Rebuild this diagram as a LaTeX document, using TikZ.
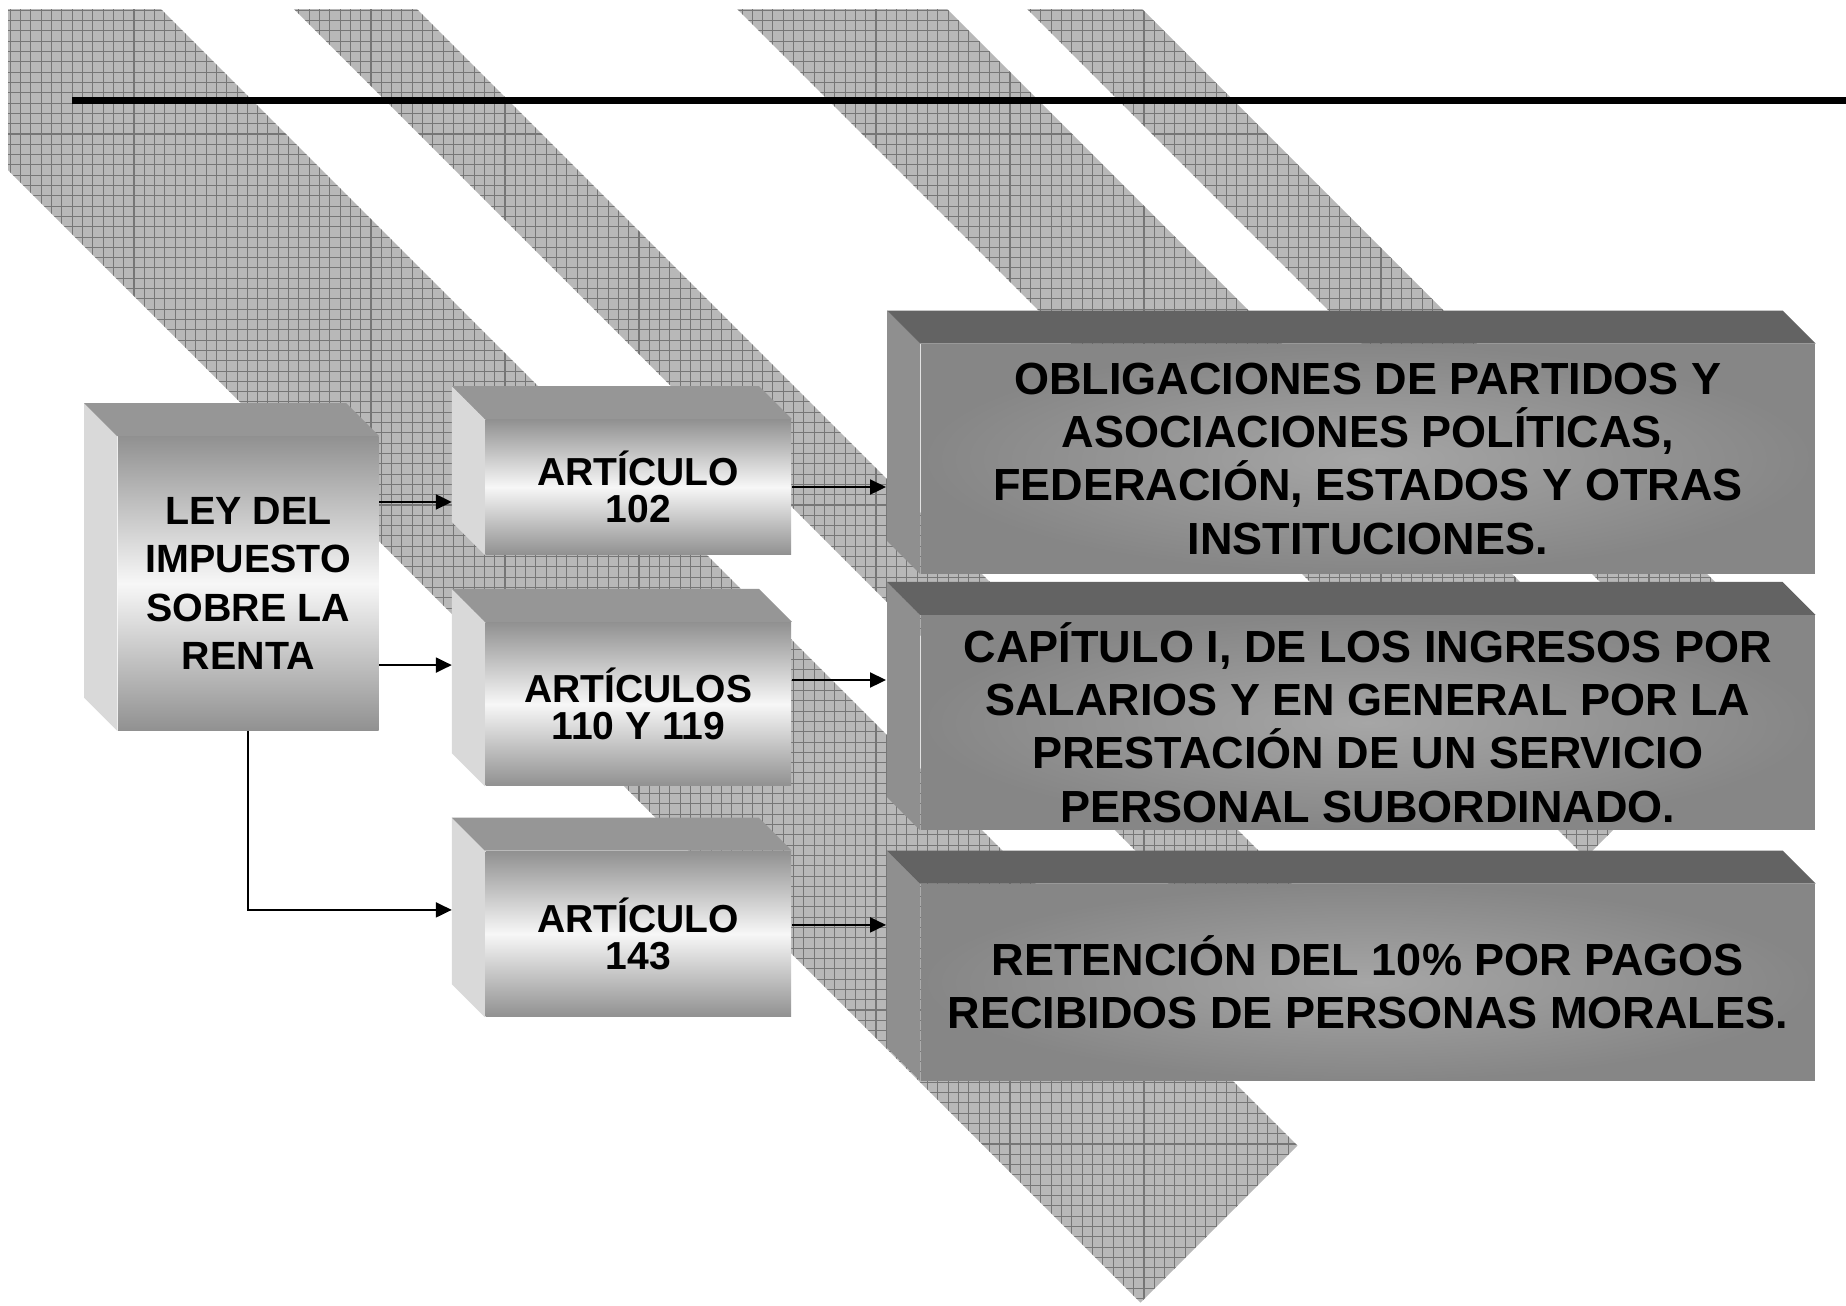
\documentclass[tikz,border=0pt]{standalone}
\usepackage{fontspec}
\setmainfont{Liberation Sans}
\usetikzlibrary{arrows.meta}

\definecolor{hatchfill}{RGB}{184,184,184}
\definecolor{hatchline}{RGB}{118,118,118}
\definecolor{darktop}{RGB}{99,99,99}
\definecolor{darkside}{RGB}{143,143,143}
\definecolor{darkfront}{RGB}{134,134,134}
\definecolor{darkmid}{RGB}{166,166,166}
\definecolor{lightside}{RGB}{217,217,217}
\definecolor{lighttop}{RGB}{150,150,150}
\definecolor{lightedge}{RGB}{145,145,145}
\definecolor{lightmid}{RGB}{247,247,247}

\begin{document}
\begin{tikzpicture}[x=0.01cm, y=-0.01cm, >={Triangle[length=1.6mm,width=1.5mm]},
  smallbox/.style={rectangle, inner sep=0pt, align=center, top color=lightedge, bottom color=lightedge, middle color=lightmid},
  bigbox/.style={rectangle, inner sep=0pt, align=center, inner color=darkmid, outer color=darkfront, font=\bfseries\fontsize{12.8}{15.2}\selectfont},
  artfont/.style={font=\bfseries\fontsize{11.1}{10.6}\selectfont},
  conn/.style={line width=0.6pt, ->, shorten >=3.4mm}]

% Fondo y marco
\fill[white] (0,0) rectangle (1846,1305);
\useasboundingbox (0,0) rectangle (1846,1305);

% Franjas diagonales cuadriculadas
\begin{scope}
\clip (8,9) -- (2434,9) -- (8,2435) -- cycle;
\clip (-162,0) -- (152,0) -- (1552,1400) -- (1238,1400) -- cycle
      (285,0) -- (408,0) -- (1808,1400) -- (1685,1400) -- cycle
      (728,0) -- (938,0) -- (2338,1400) -- (2128,1400) -- cycle
      (1018,0) -- (1133,0) -- (2533,1400) -- (2418,1400) -- cycle;
\fill[hatchfill] (0,0) rectangle (1846,1305);
\draw[hatchline, line width=0.3pt, step=1.03mm] (0,0) grid (1846,1305);
\end{scope}

% Linea superior
\draw[line width=2pt] (72,100.8) -- (1846,100.8);

% Ley
\node[smallbox, minimum width=2.605cm, minimum height=2.93cm,
      font=\bfseries\fontsize{11.2}{13.8}\selectfont] (ley) at (248.25,583.5)
      {LEY DEL\\IMPUESTO\\SOBRE LA\\RENTA};

% Articulos
\node[smallbox, artfont, minimum width=3.054cm, minimum height=1.345cm] (a102) at (638.3,487) {ARTÍCULO\\102};
\node[smallbox, artfont, minimum width=3.054cm, minimum height=1.63cm] (a110) at (638.3,704) {ARTÍCULOS\\110 Y 119};
\node[smallbox, artfont, minimum width=3.054cm, minimum height=1.65cm] (a143) at (638.3,933.9) {ARTÍCULO\\143};

% Obligaciones
\node[bigbox, minimum width=8.937cm, minimum height=2.289cm] (oblig) at (1367.85,458.75)
  {OBLIGACIONES DE PARTIDOS Y\\ASOCIACIONES POLÍTICAS,\\FEDERACIÓN, ESTADOS Y OTRAS\\INSTITUCIONES.};
\node[bigbox, minimum width=8.937cm, minimum height=2.136cm] (capit) at (1367.85,722.5)
  {CAPÍTULO I, DE LOS INGRESOS POR\\SALARIOS Y EN GENERAL POR LA\\PRESTACIÓN DE UN SERVICIO\\PERSONAL SUBORDINADO.};
\node[bigbox, minimum width=8.937cm, minimum height=1.957cm] (ret) at (1367.85,982.15)
  {RETENCIÓN DEL 10\% POR PAGOS\\RECIBIDOS DE PERSONAS MORALES.};

% Caras laterales y superiores
\foreach \n in {ley,a102,a110,a143} {
  \fill[lightside] (\n.north west) -- ++(-33,-33) -- ([shift={(-33,-33)}]\n.south west) -- (\n.south west) -- cycle;
  \fill[lighttop] (\n.north west) -- ++(-33,-33) -- ([shift={(-33,-33)}]\n.north east) -- (\n.north east) -- cycle;
}
\foreach \n in {oblig,capit,ret} {
  \fill[darkside] (\n.north west) -- ++(-33,-33) -- ([shift={(-33,-33)}]\n.south west) -- (\n.south west) -- cycle;
  \fill[darktop] (\n.north west) -- ++(-33,-33) -- ([shift={(-33,-33)}]\n.north east) -- (\n.north east) -- cycle;
}

% Conectores
\draw[conn, shorten >=3.3mm] ([yshift=8.15mm]ley.east) -- ([yshift=8.15mm]ley.east -| a102.west);
\draw[conn, shorten >=3.3mm] ([yshift=-8.15mm]ley.east) -- ([yshift=-8.15mm]ley.east -| a110.west);
\draw[conn, shorten >=3.3mm] (ley.south) |- ([yshift=2.4mm]a143.west);
\draw[conn] (a102.east) -- (a102.east -| oblig.west);
\draw[conn] ([yshift=2.4mm]a110.east) -- ([yshift=2.4mm]a110.east -| capit.west);
\draw[conn] ([yshift=0.9mm]a143.east) -- ([yshift=0.9mm]a143.east -| ret.west);

\end{tikzpicture}
\end{document}
